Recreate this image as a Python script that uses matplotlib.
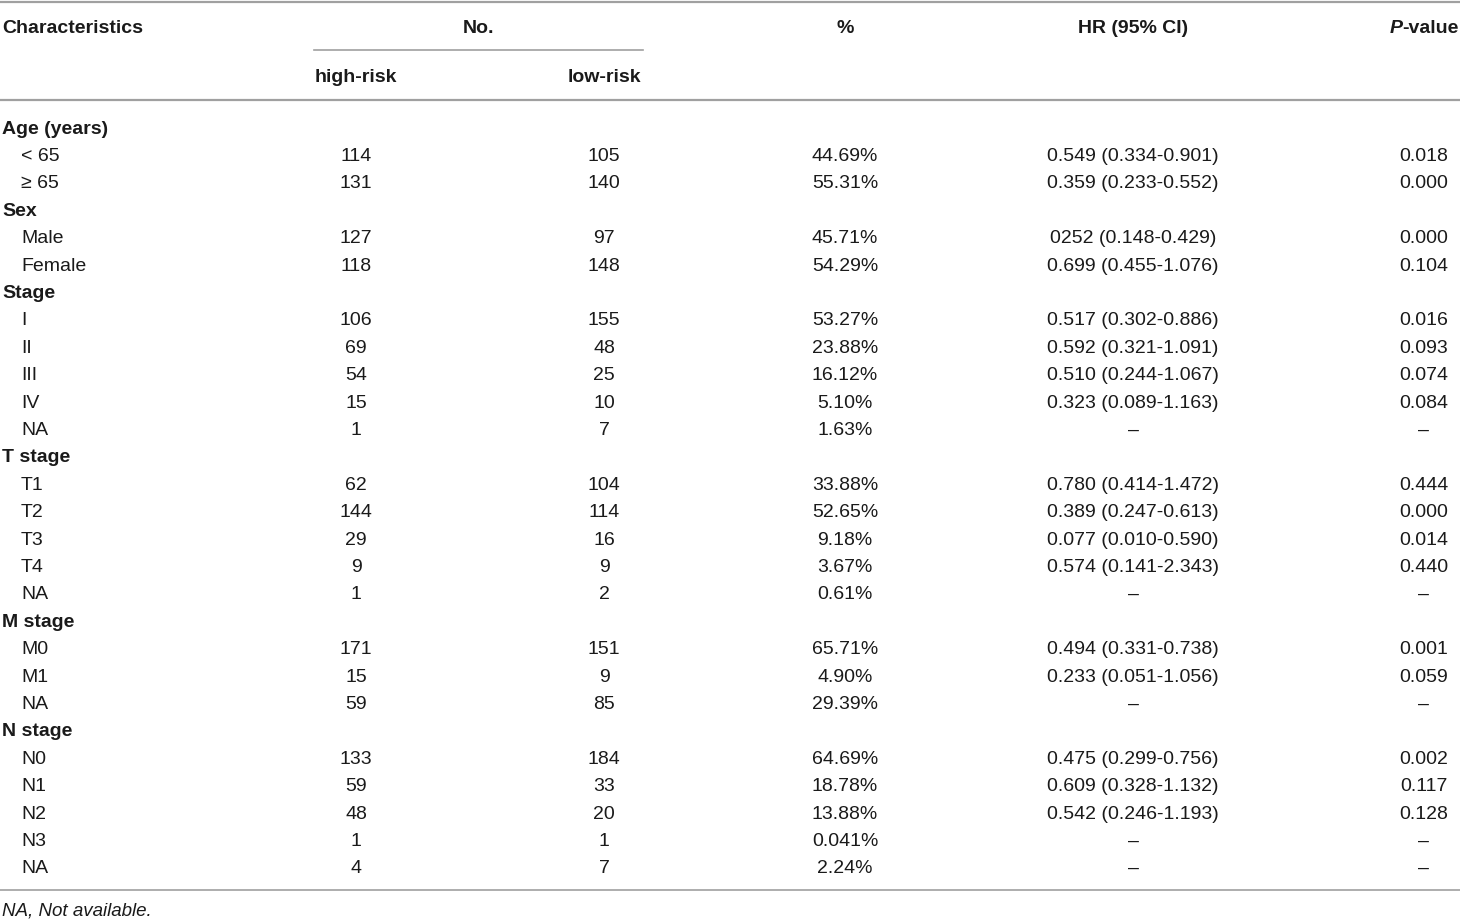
import matplotlib
matplotlib.use("Agg")
import matplotlib.pyplot as plt
from matplotlib import font_manager

# table content
labels = ["Age (years)", "< 65", "\u2265 65",
          "Sex", "Male", "Female",
          "Stage", "I", "II", "III", "IV", "NA",
          "T stage", "T1", "T2", "T3", "T4", "NA",
          "M stage", "M0", "M1", "NA",
          "N stage", "N0", "N1", "N2", "N3", "NA"]
is_group = [True, False, False,
            True, False, False,
            True, False, False, False, False, False,
            True, False, False, False, False, False,
            True, False, False, False,
            True, False, False, False, False, False]
high_risk = ["", "114", "131", "", "127", "118", "", "106", "69", "54", "15", "1",
             "", "62", "144", "29", "9", "1", "", "171", "15", "59",
             "", "133", "59", "48", "1", "4"]
low_risk = ["", "105", "140", "", "97", "148", "", "155", "48", "25", "10", "7",
            "", "104", "114", "16", "9", "2", "", "151", "9", "85",
            "", "184", "33", "20", "1", "7"]
pct = ["", "44.69%", "55.31%", "", "45.71%", "54.29%", "", "53.27%", "23.88%",
       "16.12%", "5.10%", "1.63%", "", "33.88%", "52.65%", "9.18%", "3.67%", "0.61%",
       "", "65.71%", "4.90%", "29.39%", "", "64.69%", "18.78%", "13.88%", "0.041%", "2.24%"]
hr = ["", "0.549 (0.334-0.901)", "0.359 (0.233-0.552)", "",
      "0252 (0.148-0.429)", "0.699 (0.455-1.076)", "",
      "0.517 (0.302-0.886)", "0.592 (0.321-1.091)", "0.510 (0.244-1.067)",
      "0.323 (0.089-1.163)", "\u2013", "",
      "0.780 (0.414-1.472)", "0.389 (0.247-0.613)", "0.077 (0.010-0.590)",
      "0.574 (0.141-2.343)", "\u2013", "",
      "0.494 (0.331-0.738)", "0.233 (0.051-1.056)", "\u2013", "",
      "0.475 (0.299-0.756)", "0.609 (0.328-1.132)", "0.542 (0.246-1.193)",
      "\u2013", "\u2013"]
pval = ["", "0.018", "0.000", "", "0.000", "0.104", "", "0.016", "0.093", "0.074",
        "0.084", "\u2013", "", "0.444", "0.000", "0.014", "0.440", "\u2013", "",
        "0.001", "0.059", "\u2013", "", "0.002", "0.117", "0.128", "\u2013", "\u2013"]
footnote = "NA, Not available."

names = {f.name for f in font_manager.fontManager.ttflist}
main_font = "Liberation Sans Narrow" if "Liberation Sans Narrow" in names else "Liberation Sans"
plt.rcParams['font.family'] = [main_font, 'DejaVu Sans']

W, H = 1460, 921
fig = plt.figure(figsize=(W / 100, H / 100), dpi=100)
ax = fig.add_axes([0, 0, 1, 1])
ax.set_xlim(0, W)
ax.set_ylim(H, 0)
ax.axis("off")

fs = 14
txt = "#1a1a1a"
line_c = "#a0a0a0"

# rules
ax.plot([0, W], [2, 2], color=line_c, lw=1.6)
ax.plot([0, W], [100.5, 100.5], color=line_c, lw=1.6)
ax.plot([314, 643], [50, 50], color=line_c, lw=1.2)
ax.plot([0, W], [890, 890], color=line_c, lw=1.2)

# header
hy = 28.5
ax.text(2, hy, "Characteristics", fontsize=fs, fontweight="bold", color=txt, va="center")
ax.text(478, hy, "No.", fontsize=fs, fontweight="bold", color=txt, va="center", ha="center")
ax.text(356, 77.5, "high-risk", fontsize=fs, fontweight="bold", color=txt, va="center", ha="center")
ax.text(604, 77.5, "low-risk", fontsize=fs, fontweight="bold", color=txt, va="center", ha="center")
ax.text(845, hy, "%", fontsize=fs, fontweight="bold", color=txt, va="center", ha="center")
ax.text(1133, hy, "HR (95% CI)", fontsize=fs, fontweight="bold", color=txt, va="center", ha="center")
pv = ax.text(1459, hy, "-value", fontsize=fs, fontweight="bold", color=txt, va="center", ha="right")
fig.canvas.draw()
bb = pv.get_window_extent(fig.canvas.get_renderer())
x_left = ax.transData.inverted().transform((bb.x0, bb.y0))[0]
ax.text(x_left, hy, "P", fontsize=fs, fontweight="bold", style="italic", color=txt,
        va="center", ha="right")

# body
y0, dy = 129, 27.4
for i, lab in enumerate(labels):
    y = y0 + i * dy
    if is_group[i]:
        ax.text(2, y, lab, fontsize=fs, fontweight="bold", color=txt, va="center")
        continue
    ax.text(21, y, lab, fontsize=fs, color=txt, va="center")
    ax.text(356, y, high_risk[i], fontsize=fs, color=txt, va="center", ha="center")
    ax.text(604, y, low_risk[i], fontsize=fs, color=txt, va="center", ha="center")
    ax.text(845, y, pct[i], fontsize=fs, color=txt, va="center", ha="center")
    ax.text(1133, y, hr[i], fontsize=fs, color=txt, va="center", ha="center")
    ax.text(1424, y, pval[i], fontsize=fs, color=txt, va="center", ha="center")

ax.text(2, 911, footnote, fontsize=fs - 0.5, style="italic", color=txt, va="center")

fig.savefig("out.png", dpi=100)
